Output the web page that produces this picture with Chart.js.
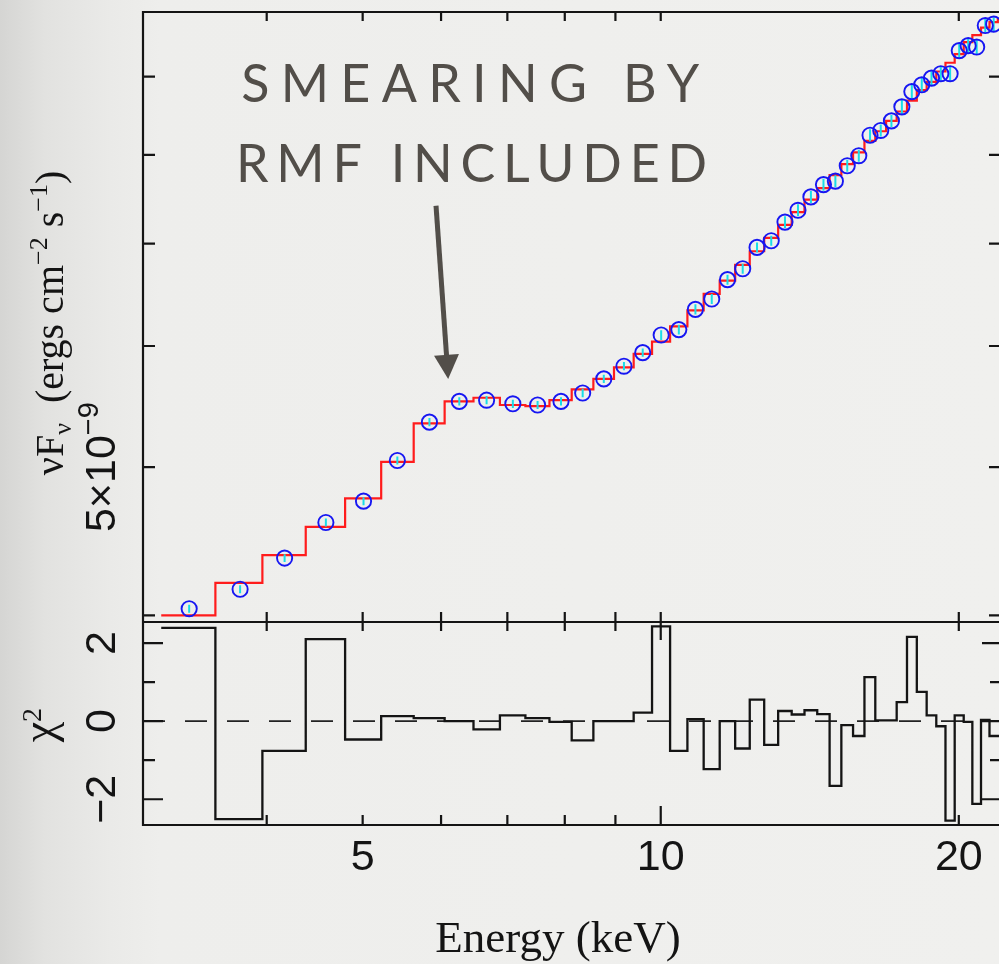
<!DOCTYPE html>
<html lang="en">
<head>
<meta charset="UTF-8">
<title>Spectrum with RMF smearing</title>
<script src="https://cdn.jsdelivr.net/npm/chart.js@4.4.1/dist/chart.umd.min.js"></script>
<style>
  html, body { margin: 0; padding: 0; }
  body {
    width: 999px; height: 964px; overflow: hidden;
    background: linear-gradient(to right, #d5d5d3 0px, #e2e2e0 45px, #eaeae8 110px, #eeeeec 160px, #f0f0ee 100%);
  }
  .chart-box { position: relative; width: 999px; height: 964px; }
</style>
</head>
<body>
<div class="chart-box"><canvas id="spec"></canvas></div>
<script>
// channel bin edges (keV)
const binEdges = [3.13, 3.55, 3.96, 4.38, 4.80, 5.22, 5.63, 6.05, 6.47, 6.88,
  7.30, 7.72, 8.13, 8.55, 8.97, 9.39, 9.80, 10.22, 10.64, 11.05,
  11.47, 11.89, 12.30, 12.72, 13.14, 13.56, 13.97, 14.39, 14.81, 15.22,
  15.64, 16.06, 16.47, 16.89, 17.31, 17.73, 18.14, 18.56, 18.98, 19.39,
  19.81, 20.23, 20.64, 21.06, 21.48, 21.90, 22.31];

// data points: energy (keV), nuFnu and error in units of 1e-9 ergs cm-2 s-1
const energy = [3.34, 3.76, 4.17, 4.59, 5.01, 5.42, 5.84, 6.26, 6.67, 7.09,
  7.51, 7.93, 8.34, 8.76, 9.18, 9.59, 10.01, 10.43, 10.84, 11.26,
  11.68, 12.10, 12.51, 12.93, 13.35, 13.76, 14.18, 14.60, 15.01, 15.43,
  15.85, 16.27, 16.68, 17.10, 17.52, 17.93, 18.35, 18.77, 19.18, 19.60,
  20.02, 20.44, 20.85, 21.27, 21.69];
const flux = [4.04, 4.16, 4.36, 4.60, 4.75, 5.05, 5.35, 5.52, 5.53, 5.50,
  5.49, 5.52, 5.59, 5.71, 5.82, 5.94, 6.10, 6.15, 6.34, 6.44,
  6.63, 6.74, 6.96, 7.03, 7.23, 7.36, 7.51, 7.65, 7.69, 7.87,
  7.99, 8.24, 8.30, 8.42, 8.60, 8.80, 8.89, 8.98, 9.04, 9.04,
  9.36, 9.43, 9.41, 9.72, 9.74];
const fluxErr = [0.024, 0.025, 0.026, 0.028, 0.029, 0.031, 0.033, 0.034, 0.034, 0.034,
  0.034, 0.034, 0.035, 0.036, 0.036, 0.037, 0.045, 0.046, 0.048, 0.048,
  0.050, 0.051, 0.052, 0.053, 0.065, 0.066, 0.068, 0.069, 0.069, 0.071,
  0.072, 0.074, 0.075, 0.076, 0.091, 0.093, 0.094, 0.095, 0.096, 0.096,
  0.099, 0.100, 0.100, 0.103, 0.103];

// folded model per bin (same units)
const model = [4.00, 4.20, 4.38, 4.57, 4.77, 5.04, 5.34, 5.52, 5.55, 5.49,
  5.48, 5.53, 5.62, 5.71, 5.81, 5.93, 6.04, 6.18, 6.33, 6.49,
  6.62, 6.78, 6.92, 7.06, 7.20, 7.34, 7.48, 7.61, 7.76, 7.89,
  8.03, 8.17, 8.29, 8.42, 8.54, 8.68, 8.82, 8.93, 9.07, 9.19,
  9.31, 9.48, 9.58, 9.69, 9.77, 9.82];

// residuals per bin
const resid = [2.39, -2.51, -0.76, 2.10, -0.47, 0.13, 0.08, 0.00, -0.21, 0.15,
  0.08, -0.02, -0.49, 0.00, 0.00, 0.22, 2.43, -0.76, 0.05, -1.23,
  0.00, -0.70, 0.55, -0.61, 0.26, 0.17, 0.28, 0.18, -1.66, -0.10,
  -0.38, 1.13, 0.02, 0.02, 0.49, 2.16, 0.75, 0.15, -0.13, -2.55,
  0.15, -0.02, -2.12, 0.03, -0.38, -0.38];

// axes
const FLUX_UNIT = 1e-9;
const xRange = [3, 21.96];
const fluxRange = [3.96, 9.92];
const residRange = [-2.66, 2.54];
const xLabelTicks = [5, 10, 20];
const xTickMarks = [4, 5, 6, 7, 8, 9, 10, 20];
const fluxTicks = [4, 5, 6, 7, 8, 9];
const residTicks = [-2, -1, 0, 1, 2];
const residLabelTicks = [-2, 0, 2];

// annotation (keV, 1e-9 units)
const noteLines = ['SMEARING BY', 'RMF INCLUDED'];
const noteAt = [[6.42, 8.66], [6.44, 7.68]];
const arrowFrom = [5.93, 7.41];
const arrowTo = [6.10, 5.71];

const SANS = '"Liberation Sans", Arial, sans-serif';
const SERIF = '"Liberation Serif", "Times New Roman", serif';
const INK = '#141414';

function stepPoints(values, scale) {
  const pts = values.map((v, i) => ({x: binEdges[i], y: v * scale}));
  pts.push({x: binEdges[values.length], y: values[values.length - 1] * scale});
  return pts;
}

// draw a sequence of text pieces (with super/subscripts), centred on (cx, cy)
function drawRuns(ctx, runs, cx, cy, rotate) {
  ctx.save();
  ctx.translate(cx, cy);
  if (rotate) ctx.rotate(-Math.PI / 2);
  let total = 0;
  runs.forEach(r => { ctx.font = r.font; r.w = ctx.measureText(r.text).width; total += r.w; });
  let x = -total / 2;
  ctx.textAlign = 'left';
  ctx.textBaseline = 'alphabetic';
  ctx.fillStyle = INK;
  runs.forEach(r => { ctx.font = r.font; ctx.fillText(r.text, x, r.dy || 0); x += r.w; });
  ctx.restore();
}

const framePlugin = {
  id: 'frame',
  beforeDatasetDraw(chart, args) {
    // error bars just under the circles
    if (chart.data.datasets[args.index].label !== 'data') return;
    const ctx = chart.ctx, xs = chart.scales.x, ys = chart.scales.yFlux;
    ctx.save();
    ctx.strokeStyle = '#18dde8';
    ctx.lineWidth = 2;
    ctx.beginPath();
    energy.forEach((e, i) => {
      const px = xs.getPixelForValue(e);
      ctx.moveTo(px, ys.getPixelForValue((flux[i] - fluxErr[i]) * FLUX_UNIT));
      ctx.lineTo(px, ys.getPixelForValue((flux[i] + fluxErr[i]) * FLUX_UNIT));
    });
    ctx.stroke();
    ctx.restore();
  },
  afterDraw(chart) {
    const ctx = chart.ctx;
    const xs = chart.scales.x, yF = chart.scales.yFlux, yR = chart.scales.yRes;
    const L = chart.chartArea.left, R = chart.chartArea.right;
    ctx.save();
    ctx.strokeStyle = INK;
    ctx.lineWidth = 2.2;
    ctx.lineCap = 'butt';
    ctx.beginPath();
    // frame
    ctx.moveTo(L, yF.top); ctx.lineTo(R, yF.top);
    ctx.moveTo(L, yR.top); ctx.lineTo(R, yR.top);
    ctx.moveTo(L, yR.bottom); ctx.lineTo(R, yR.bottom);
    ctx.moveTo(L, yF.top - 1); ctx.lineTo(L, yR.bottom + 1);
    // x tick marks, both panels
    xTickMarks.forEach(v => {
      const px = xs.getPixelForValue(v);
      const big = v === 10;
      ctx.moveTo(px, yF.top); ctx.lineTo(px, yF.top + 9);
      ctx.moveTo(px, yF.bottom); ctx.lineTo(px, yF.bottom - 10);
      ctx.moveTo(px, yR.top); ctx.lineTo(px, yR.top + (big ? 18 : 9));
      ctx.moveTo(px, yR.bottom); ctx.lineTo(px, yR.bottom - (big ? 19 : 10));
    });
    // flux ticks, left and right
    fluxTicks.forEach(v => {
      const py = yF.getPixelForValue(v * FLUX_UNIT);
      ctx.moveTo(L, py); ctx.lineTo(L + 12, py);
      ctx.moveTo(R, py); ctx.lineTo(R - 10, py);
    });
    // residual ticks
    residTicks.forEach(v => {
      const py = yR.getPixelForValue(v);
      const major = residLabelTicks.includes(v);
      ctx.moveTo(L, py); ctx.lineTo(L + (major ? 20 : 12), py);
      ctx.moveTo(R, py); ctx.lineTo(R - (major ? 17 : 9), py);
    });
    ctx.stroke();
    ctx.restore();

    // rotated y tick labels
    drawRuns(ctx, [
      {text: '5×10', font: '43px ' + SANS},
      {text: '−9', font: '29px ' + SANS, dy: -17}
    ], 115, yF.getPixelForValue(5 * FLUX_UNIT), true);
    residLabelTicks.forEach(v => {
      drawRuns(ctx, [{text: v < 0 ? '−' + Math.abs(v) : String(v), font: '43px ' + SANS}],
        115, yR.getPixelForValue(v), true);
    });

    // axis titles
    drawRuns(ctx, [
      {text: 'νF', font: '40px ' + SERIF},
      {text: 'ν', font: '26px ' + SERIF, dy: 8},
      {text: '  (ergs cm', font: '40px ' + SERIF},
      {text: '−2', font: '26px ' + SERIF, dy: -16},
      {text: ' s', font: '40px ' + SERIF},
      {text: '−1', font: '26px ' + SERIF, dy: -16},
      {text: ')', font: '40px ' + SERIF}
    ], 63, (yF.top + yF.bottom) / 2 + 6, true);
    drawRuns(ctx, [
      {text: 'χ', font: '46px ' + SERIF},
      {text: '2', font: '28px ' + SERIF, dy: -13}
    ], 54, yR.getPixelForValue(0) + 4, true);
    drawRuns(ctx, [{text: 'Energy (keV)', font: '45px ' + SERIF}], L + 415, 952, false);

    // annotation
    ctx.save();
    ctx.fillStyle = '#524e49';
    ctx.font = '400 52px Lato, "Open Sans", sans-serif';
    ctx.textAlign = 'left';
    ctx.textBaseline = 'alphabetic';
    const widths = [458, 471];
    noteLines.forEach((line, i) => {
      ctx.letterSpacing = '0px';
      const w0 = ctx.measureText(line).width;
      const sp = (widths[i] - w0) / (line.length - 1);
      ctx.letterSpacing = sp + 'px';
      const cx = xs.getPixelForValue(noteAt[i][0]);
      const by = yF.getPixelForValue(noteAt[i][1] * FLUX_UNIT);
      ctx.fillText(line, cx - widths[i] / 2, by);
    });
    ctx.letterSpacing = '0px';
    const ax = xs.getPixelForValue(arrowFrom[0]), ay = yF.getPixelForValue(arrowFrom[1] * FLUX_UNIT);
    const bx = xs.getPixelForValue(arrowTo[0]), by = yF.getPixelForValue(arrowTo[1] * FLUX_UNIT);
    const len = Math.hypot(bx - ax, by - ay);
    const ux = (bx - ax) / len, uy = (by - ay) / len;
    const hx = bx - ux * 24, hy = by - uy * 24;
    ctx.strokeStyle = '#524e49';
    ctx.lineWidth = 5;
    ctx.beginPath();
    ctx.moveTo(ax, ay);
    ctx.lineTo(hx + ux * 4, hy + uy * 4);
    ctx.stroke();
    ctx.beginPath();
    ctx.moveTo(bx, by);
    ctx.lineTo(hx - uy * 12.5, hy + ux * 12.5);
    ctx.lineTo(hx + uy * 12.5, hy - ux * 12.5);
    ctx.closePath();
    ctx.fill();
    ctx.restore();
  }
};

const ctx = document.getElementById('spec').getContext('2d');
const chart = new Chart(ctx, {
  type: 'line',
  data: {
    datasets: [
      {
        label: 'data',
        data: energy.map((e, i) => ({x: e, y: flux[i] * FLUX_UNIT})),
        yAxisID: 'yFlux',
        showLine: false,
        pointStyle: 'circle',
        pointRadius: 7.6,
        pointBorderWidth: 1.9,
        pointBorderColor: '#1616f2',
        pointBackgroundColor: 'rgba(0,0,0,0)',
        order: 0
      },
      {
        label: 'model',
        data: stepPoints(model, FLUX_UNIT),
        yAxisID: 'yFlux',
        stepped: 'before',
        borderColor: '#ff1c1c',
        borderWidth: 2.2,
        pointRadius: 0,
        order: 1
      },
      {
        label: 'residuals',
        data: stepPoints(resid, 1),
        yAxisID: 'yRes',
        stepped: 'before',
        borderColor: INK,
        borderWidth: 2.3,
        pointRadius: 0,
        order: 1
      },
      {
        label: 'zero',
        data: [{x: xRange[0], y: 0}, {x: xRange[1], y: 0}],
        yAxisID: 'yRes',
        borderColor: '#222',
        borderWidth: 1.6,
        borderDash: [22, 20],
        pointRadius: 0,
        order: 2
      }
    ]
  },
  options: {
    responsive: true,
    maintainAspectRatio: false,
    animation: false,
    events: [],
    layout: { autoPadding: false, padding: { top: 12, right: 0, bottom: 0, left: 0 } },
    plugins: { legend: { display: false }, tooltip: { enabled: false } },
    scales: {
      x: {
        type: 'logarithmic',
        position: 'bottom',
        min: xRange[0],
        max: xRange[1],
        grid: { display: false, drawTicks: false },
        border: { display: false },
        afterBuildTicks: s => { s.ticks = xLabelTicks.map(v => ({value: v})); },
        afterFit: s => { s.height = 139; s.paddingLeft = 0; s.paddingRight = 0; },
        ticks: {
          autoSkip: false,
          maxRotation: 0,
          padding: 7,
          color: INK,
          font: { family: SANS, size: 43 },
          callback: v => String(v)
        }
      },
      yRes: {
        type: 'linear',
        position: 'left',
        stack: 'panels',
        stackWeight: 203,
        min: residRange[0],
        max: residRange[1],
        grid: { display: false, drawTicks: false },
        border: { display: false },
        ticks: { display: false },
        afterFit: s => { s.width = 143; s.paddingTop = 0; s.paddingBottom = 0; }
      },
      yFlux: {
        type: 'logarithmic',
        position: 'left',
        stack: 'panels',
        stackWeight: 610,
        min: fluxRange[0] * FLUX_UNIT,
        max: fluxRange[1] * FLUX_UNIT,
        grid: { display: false, drawTicks: false },
        border: { display: false },
        ticks: { display: false },
        afterFit: s => { s.width = 143; s.paddingTop = 0; s.paddingBottom = 0; }
      }
    }
  },
  plugins: [framePlugin]
});
</script>
</body>
</html>
